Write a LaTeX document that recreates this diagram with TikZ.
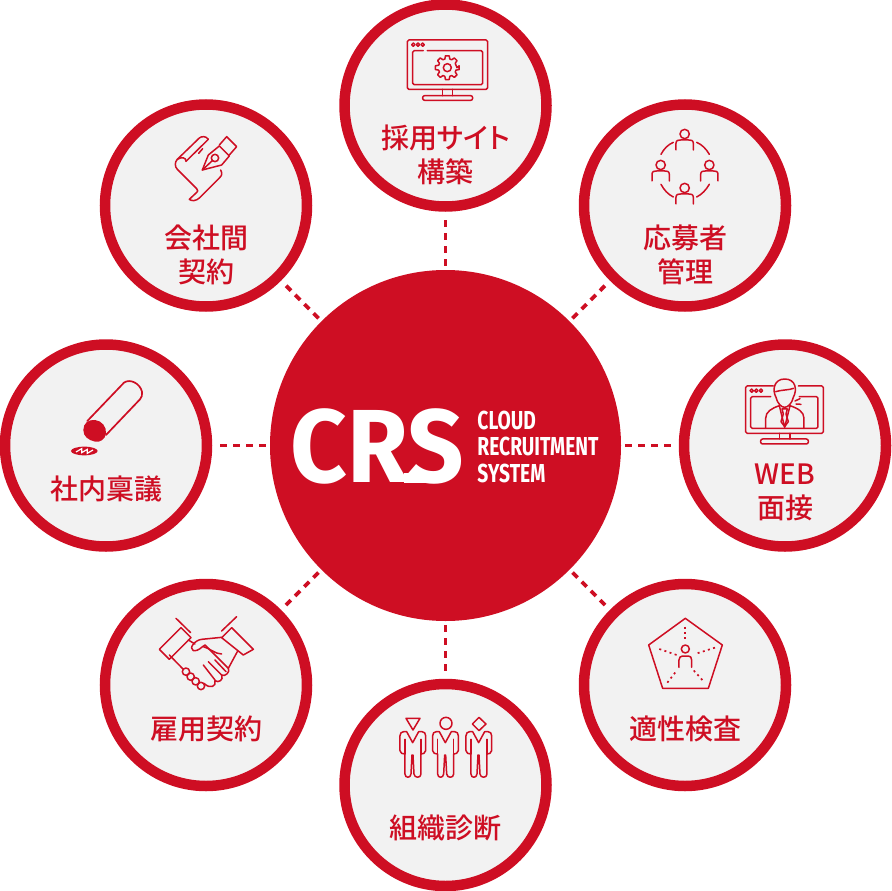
\documentclass[tikz,border=0pt]{standalone}
\usepackage{fontspec}
\usepackage{tikz}
\newfontfamily\cjk{Noto Sans CJK JP Medium}[RawFeature={+palt}]
\newfontfamily\logofont{Fira Sans}[FakeStretch=0.95]
\newfontfamily\smalllogofont{Fira Sans}[FakeStretch=0.74]
\definecolor{crsred}{HTML}{CE0E23}
\definecolor{crsgrey}{HTML}{F2F2F2}
\tikzstyle{hub}=[circle,fill=crsred,minimum size=351pt,inner sep=0pt]
\tikzstyle{vertex}=[circle,draw=crsred,fill=crsgrey,line width=10.5pt,minimum size=202pt,inner sep=0pt]
\tikzstyle{link}=[draw=crsred,line width=3.8pt,dash pattern=on 7pt off 6pt,shorten >=4pt,shorten <=4pt]
\tikzstyle{caption}=[text=crsred,font=\cjk\fontsize{28}{34}\selectfont,align=center,inner sep=0pt]
\tikzstyle{icon}=[draw=crsred,line width=1.5pt,line cap=round,line join=round]
\tikzstyle{dotline}=[draw=crsred,line width=1.7pt,dash pattern=on 2pt off 3.4pt]
\newcommand{\personmark}[2]{
  \begin{scope}[shift={(#1,#2)}]
    \draw[icon] (0,-16) circle (14);
    \draw[icon] (-26,32) -- (-26,12) .. controls (-26,2) and (-18,2) .. (-12,2) -- (12,2) .. controls (18,2) and (26,2) .. (26,12) -- (26,32);
  \end{scope}
}
\newcommand{\figuremark}[1]{
  \begin{scope}[shift={(#1,0)}]
    \draw[icon] (-18,155) -- (0,188) -- (18,155) -- (28,155) .. controls (35,155) and (39,160) .. (39,167) -- (39,212) .. controls (39,220) and (30,222) .. (25,222) -- (25,282) .. controls (25,295) and (5,295) .. (4,282) -- (1,225) -- (-2,225) -- (-5,282) .. controls (-6,295) and (-23,295) .. (-23,282) -- (-23,222) .. controls (-30,222) and (-38,220) .. (-38,212) -- (-38,167) .. controls (-38,160) and (-34,155) .. (-27,155) -- cycle;
    \draw[icon] (-23,178) -- (-23,222);
    \draw[icon] (25,178) -- (25,222);
  \end{scope}
}
\begin{document}
\begin{tikzpicture}[x=1pt,y=-1pt]
    \useasboundingbox (0,0) rectangle (891,891);
    \node[hub] (crs) at (445.5,445.5) {};
    \node[vertex] (n1) at (445.5,105.5) {};
    \node[vertex] (n2) at (685,205.5) {};
    \node[vertex] (n3) at (785,445.5) {};
    \node[vertex] (n4) at (685,685) {};
    \node[vertex] (n5) at (445.5,785) {};
    \node[vertex] (n6) at (206,685) {};
    \node[vertex] (n7) at (106,445.5) {};
    \node[vertex] (n8) at (206,205.5) {};
    \draw[link] (crs) -- (n1);
    \draw[link] (crs) -- (n2);
    \draw[link] (crs) -- (n3);
    \draw[link] (crs) -- (n4);
    \draw[link] (crs) -- (n5);
    \draw[link] (crs) -- (n6);
    \draw[link] (crs) -- (n7);
    \draw[link] (crs) -- (n8);
    % captions
    \node[caption] (t1) at (445.5,154.5) {採用サイト\\構築};
    \node[caption] (t2) at (685,254.5) {応募者\\管理};
    \node[caption] (t3) at (785,492.5) {WEB\\面接};
    \node[caption] (t4) at (685,729) {適性検査};
    \node[caption] (t5) at (445.5,828) {組織診断};
    \node[caption] (t6) at (206,729) {雇用契約};
    \node[caption] (t7) at (106,489) {社内稟議};
    \node[caption] (t8) at (206,254.5) {会社間\\契約};
    % logo
    \node[text=white,font=\logofont\bfseries\fontsize{104}{104}\selectfont,inner sep=0pt] (crslogo) at (377.5,446.5) {CRS};
    \node[text=white,font=\smalllogofont\bfseries\fontsize{26}{26.5}\selectfont,align=left,inner sep=0pt] (crsname) at (538,446.5) {CLOUD\\RECRUITMENT\\SYSTEM};
    \fill[white] (404,472.5) rectangle (438,483);
    % site monitor
    \begin{scope}[shift={(340,0)},scale=0.3333]
        \draw[icon,rounded corners=1.5pt] (202,120) rectangle (443,268);
        \draw[icon,rounded corners=1.5pt] (250,152) -- (218,152) -- (218,254) -- (428,254) -- (428,152) -- (262,152);
        \draw[icon] (220,134) circle (5);
        \draw[icon] (234,134) circle (5);
        \draw[icon] (248,134) circle (5);
        \draw[icon] (322,203) circle (12);
        \draw[icon] (322,203) ++(0:29) foreach \a in {0,45,...,315} {
            -- ++(0,0) -- ({322+36*cos(\a-9)},{203+36*sin(\a-9)}) -- ({322+36*cos(\a+9)},{203+36*sin(\a+9)}) -- ({322+27*cos(\a+16)},{203+27*sin(\a+16)}) -- ({322+27*cos(\a+29)},{203+27*sin(\a+29)})
        } -- cycle;
        \draw[icon] (308,268) -- (308,287);
        \draw[icon] (338,268) -- (338,287);
        \draw[icon,rounded corners=2pt] (248,287) rectangle (398,301);
    \end{scope}
    % applicants
    \begin{scope}[shift={(580,100)},scale=0.3333]
        \personmark{314}{118}
        \personmark{242}{211}
        \personmark{388}{211}
        \personmark{314}{280}
        \draw[icon] (243,163) .. controls (252,146) and (264,134) .. (280,127);
        \draw[icon] (350,127) .. controls (366,134) and (378,146) .. (388,163);
        \draw[icon] (243,253) .. controls (252,270) and (264,283) .. (280,291);
        \draw[icon] (350,291) .. controls (366,283) and (378,270) .. (388,253);
    \end{scope}
    % web interview
    \begin{scope}[shift={(680,340)},scale=0.3333]
        \draw[icon,rounded corners=1.5pt] (280,138) -- (197,138) -- (197,280) -- (430,280) -- (430,138) -- (355,138);
        \draw[icon,rounded corners=1.5pt] (272,170) -- (212,170) -- (212,265) -- (414,265) -- (414,170) -- (358,170);
        \draw[icon] (215,152) circle (5);
        \draw[icon] (229,152) circle (5);
        \draw[icon] (243,152) circle (5);
        \draw[icon] (298,280) -- (298,297);
        \draw[icon] (330,280) -- (330,297);
        \draw[icon,rounded corners=2pt] (242,297) rectangle (385,312);
        \draw[icon] (288,172) .. controls (276,150) and (282,117) .. (314,117) .. controls (348,117) and (352,150) .. (340,172) .. controls (336,190) and (324,202) .. (314,202) .. controls (304,202) and (292,190) .. (288,172) -- cycle;
        \draw[icon] (287,155) .. controls (300,150) and (330,150) .. (341,145);
        \draw[icon] (257,265) -- (257,235) .. controls (257,215) and (275,205) .. (298,197) -- (314,262) -- (330,197) .. controls (353,205) and (372,215) .. (372,235) -- (372,265);
        \draw[icon] (306,207) -- (322,207) -- (318,222) -- (325,245) -- (314,260) -- (303,245) -- (310,222) -- cycle;
        \draw[icon] (345,183) -- (360,176);
        \draw[icon] (348,192) -- (363,193);
    \end{scope}
    % aptitude test
    \begin{scope}[shift={(580,580)},scale=0.3333]
        \draw[icon] (316,115) -- (427,195) -- (385,325) -- (248,325) -- (206,195) -- cycle;
        \draw[icon] (316,207) circle (12);
        \draw[icon] (297,262) -- (297,240) .. controls (297,232) and (302,228) .. (308,228) -- (325,228) .. controls (331,228) and (335,232) .. (335,240) -- (335,262);
        \draw[dotline] (316,140) -- (316,185);
        \draw[dotline] (238,207) -- (290,225);
        \draw[dotline] (262,308) -- (290,272);
        \draw[dotline] (367,300) -- (340,270);
        \draw[dotline] (405,203) -- (345,222);
    \end{scope}
    % organisation figures
    \begin{scope}[shift={(340,680)},scale=0.3333]
        \figuremark{218}
        \figuremark{316}
        \figuremark{416}
        \draw[icon] (198,115) -- (240,115) -- (219,150) -- cycle;
        \draw[icon] (318,130) circle (18);
        \draw[icon] (417,112) -- (438,132) -- (417,152) -- (397,132) -- cycle;
    \end{scope}
    % handshake
    \begin{scope}[shift={(100,580)},scale=0.3333]
        \draw[icon] (178,208) -- (243,143) -- (273,173) -- (208,238) -- cycle;
        \draw[icon] (228,115) -- (272,158);
        \draw[icon] (460,208) -- (395,143) -- (365,173) -- (430,225) -- cycle;
        \draw[icon] (410,110) -- (365,153);
        \draw[icon] (208,225) -- (250,268);
        \draw[icon] (258,275) circle (11);
        \draw[icon] (272,290) circle (11);
        \draw[icon] (287,304) circle (11);
        \draw[icon] (303,318) circle (11);
        \draw[icon] (265,180) -- (285,192);
        \draw[icon] (365,172) -- (305,178) .. controls (285,180) and (265,205) .. (280,212) .. controls (295,215) and (305,200) .. (315,195) -- (385,265) .. controls (392,275) and (375,292) .. (365,285) .. controls (372,300) and (355,310) .. (345,302) .. controls (350,320) and (330,328) .. (312,310);
        \draw[icon] (412,215) -- (385,265);
        \draw[icon] (310,255) -- (345,300);
        \draw[icon] (325,245) -- (365,285);
        \draw[icon] (345,240) -- (378,275);
        \draw[icon] (310,200) .. controls (330,205) and (345,222) .. (365,222);
    \end{scope}
    % seal
    \begin{scope}[shift={(0,340)},scale=0.3333]
        \draw[icon,line width=1.7pt] (262,243) -- (372,128) .. controls (390,115) and (420,130) .. (426,155) .. controls (428,165) and (425,172) .. (420,178) -- (318,285);
        \fill[crsred] (250,270) .. controls (250,250) and (265,238) .. (285,240) .. controls (305,242) and (320,260) .. (318,280) .. controls (316,298) and (300,308) .. (285,305) .. controls (265,300) and (250,290) .. (250,270) -- cycle;
        \fill[crsred] (253,333) ellipse (40 and 13);
        \draw[white,line width=1.2pt] (228,336) -- (245,326) -- (245,338) -- (262,328) -- (262,340) -- (279,330);
    \end{scope}
    % contract scroll and pen
    \begin{scope}[shift={(100,100)},scale=0.3333]
        \draw[icon] (325,118) .. controls (318,108) and (305,108) .. (298,114) -- (232,178) .. controls (224,186) and (224,200) .. (232,208) -- (290,266);
        \draw[icon] (232,178) .. controls (245,170) and (258,172) .. (258,184) -- (325,118);
        \draw[icon] (296,160) -- (308,146);
        \draw[icon] (362,210) .. controls (368,222) and (366,226) .. (358,234) -- (298,294) .. controls (290,302) and (275,305) .. (268,298) -- (285,282) .. controls (295,274) and (295,270) .. (290,266);
        \draw[icon] (307,210) -- (325,165) -- (358,138) -- (388,168) -- (365,195) -- cycle;
        \draw[icon] (358,135) -- (380,110) -- (410,140) -- (388,165);
        \draw[icon] (345,174) circle (11);
        \draw[icon] (307,210) -- (337,182);
    \end{scope}
\end{tikzpicture}
\end{document}
